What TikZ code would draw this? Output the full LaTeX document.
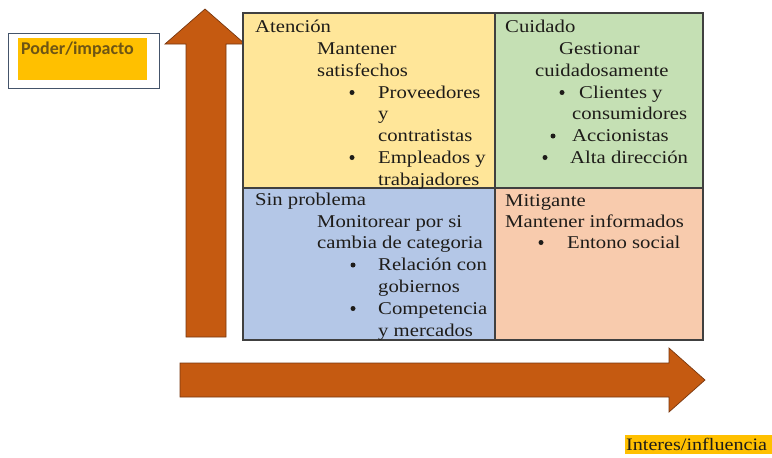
\documentclass[tikz,border=0pt]{standalone}
\usepackage{fontspec}
\setmainfont{Liberation Serif}[FakeStretch=1.15]
\newfontfamily\lblsans{Carlito}
\definecolor{qyellow}{RGB}{255,230,153}
\definecolor{qgreen}{RGB}{197,224,180}
\definecolor{qblue}{RGB}{180,199,231}
\definecolor{qpeach}{RGB}{248,203,173}
\definecolor{arrowfill}{RGB}{197,90,17}
\definecolor{arrowline}{RGB}{120,55,15}
\definecolor{hl}{RGB}{255,192,0}
\definecolor{gridline}{RGB}{64,64,64}
\definecolor{txtcol}{RGB}{30,28,25}
\definecolor{podercol}{RGB}{110,85,20}
\definecolor{boxline}{RGB}{68,84,106}
\begin{document}
\begin{tikzpicture}[x=1pt,y=-1pt,
  txt/.style={anchor=base west, inner sep=0pt, text=txtcol, font=\fontsize{18}{21}\selectfont},
  bul/.style={circle, fill=txtcol, inner sep=0pt, minimum size=5pt},
  quad/.style={draw=gridline, line width=1.1pt},
  bigarrow/.style={fill=arrowfill, draw=arrowline, line width=0.7pt, line join=miter}]
\useasboundingbox (0,0) rectangle (772,458);

% arrows
\draw[bigarrow] (186,337) -- (186,44) -- (165,44) -- (205,9) -- (245,44) -- (226,44) -- (226,337) -- cycle;
\draw[bigarrow] (180,363) -- (669,363) -- (669,348) -- (705,380) -- (669,412) -- (669,397) -- (180,397) -- cycle;

% quadrants
\draw[quad, fill=qyellow] (243,13) rectangle (495,188);
\draw[quad, fill=qgreen] (495,13) rectangle (703,188);
\draw[quad, fill=qblue] (243,188) rectangle (495,340);
\draw[quad, fill=qpeach] (495,188) rectangle (703,340);

% axis labels
\draw[boxline, line width=1pt, fill=white] (8,33) rectangle (159,88);
\fill[hl] (18,38) rectangle (147,80);
\node[anchor=base west, inner sep=0pt, text=podercol, font=\lblsans\bfseries\fontsize{18}{21}\selectfont] (poder) at (21,54) {Poder/impacto};
\fill[hl] (625,435) rectangle (772,454);
\node[txt, font=\fontsize{17.5}{21}\selectfont] (interes) at (626,450) {Interes/influencia};

% Atencion
\node[txt] (a1) at (255,32) {Atención};
\node[txt] (a2) at (317,54) {Mantener};
\node[txt] (a3) at (317,76) {satisfechos};
\node[bul] (ab1) at (352,92.5) {};
\node[txt] (a4) at (378,98) {Proveedores};
\node[txt] (a5) at (378,119.5) {y};
\node[txt] (a6) at (378,141) {contratistas};
\node[bul] (ab2) at (352,157.5) {};
\node[txt] (a7) at (378,163) {Empleados y};
\node[txt] (a8) at (378,185) {trabajadores};

% Cuidado
\node[txt] (c1) at (505,32) {Cuidado};
\node[txt] (c2) at (559,54) {Gestionar};
\node[txt] (c3) at (535,76) {cuidadosamente};
\node[bul] (cb1) at (562,92.5) {};
\node[txt] (c4) at (579,98) {Clientes y};
\node[txt] (c5) at (572,119.5) {consumidores};
\node[bul] (cb2) at (553,136) {};
\node[txt] (c6) at (572,141) {Accionistas};
\node[bul] (cb3) at (545,157.5) {};
\node[txt] (c7) at (570,163) {Alta dirección};

% Sin problema
\node[txt] (s1) at (255,205) {Sin problema};
\node[txt] (s2) at (317,227) {Monitorear por si};
\node[txt] (s3) at (317,248.5) {cambia de categoria};
\node[bul] (sb1) at (353,265) {};
\node[txt] (s4) at (378,270.5) {Relación con};
\node[txt] (s5) at (378,292) {gobiernos};
\node[bul] (sb2) at (353,308.5) {};
\node[txt] (s6) at (378,314) {Competencia};
\node[txt] (s7) at (378,336) {y mercados};

% Mitigante
\node[txt] (m1) at (505,206) {Mitigante};
\node[txt] (m2) at (505,227) {Mantener informados};
\node[bul] (mb1) at (541,242.5) {};
\node[txt] (m3) at (567,248.5) {Entono social};
\end{tikzpicture}
\end{document}
